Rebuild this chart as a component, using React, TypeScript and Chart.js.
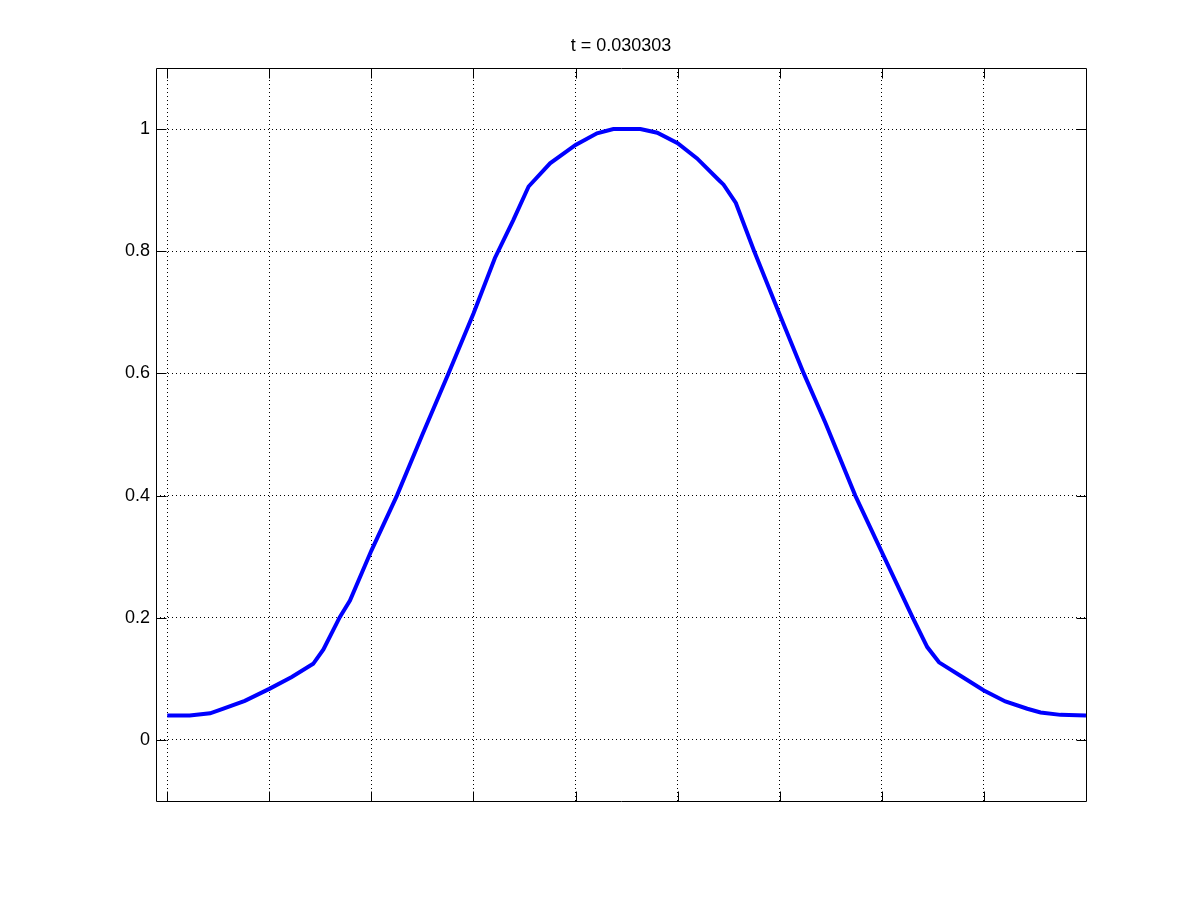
import React, { useEffect, useRef } from "react";
import { Chart, registerables } from "chart.js";

Chart.register(...registerables);

const titleText = "t = 0.030303";
const xValues = [0, 0.22, 0.42, 0.53, 0.76, 1.0, 1.22, 1.43, 1.53, 1.69, 1.79, 2.0, 2.25, 2.5, 2.755, 3.0, 3.21, 3.39, 3.54, 3.75, 4.0, 4.21, 4.37, 4.635, 4.8, 5.0, 5.19, 5.4, 5.45, 5.57, 5.745, 6.0, 6.235, 6.45, 6.74, 7.0, 7.3, 7.445, 7.56, 7.77, 8.0, 8.21, 8.425, 8.555, 8.75, 9.0];
const yValues = [0.04, 0.04, 0.0436, 0.05, 0.064, 0.0836, 0.103, 0.1246, 0.148, 0.201, 0.228, 0.31, 0.4, 0.5, 0.6, 0.698, 0.789, 0.851, 0.906, 0.944, 0.974, 0.993, 1.0, 1.0, 0.994, 0.977, 0.952, 0.917, 0.909, 0.879, 0.802, 0.696, 0.6, 0.518, 0.4, 0.3075, 0.201, 0.152, 0.127, 0.105, 0.081, 0.063, 0.051, 0.045, 0.041, 0.04];
const xTicks = [0, 1, 2, 3, 4, 5, 6, 7, 8];
const yTicks = [0, 0.2, 0.4, 0.6, 0.8, 1.0];
const xMin = -0.11;
const xMax = 9.0;
const yMin = -0.1;
const yMax = 1.1;

const FONT = "'Liberation Sans', Arial, Helvetica, sans-serif";

const boxPlugin = {
  id: "boxPlugin",
  afterDraw(chart: any) {
    const { ctx, chartArea } = chart;
    const { left, right, top, bottom } = chartArea;
    const xs = chart.scales.x;
    const ys = chart.scales.y;
    const L = Math.round(left) + 0.5;
    const R = Math.round(right) + 0.5;
    const T = Math.round(top) + 0.5;
    const B = Math.round(bottom) + 0.5;
    ctx.save();
    ctx.strokeStyle = "#000";
    ctx.lineWidth = 1;
    ctx.setLineDash([]);
    ctx.beginPath();
    ctx.rect(L, T, R - L, B - T);
    const len = 10;
    xTicks.forEach((v) => {
      const px = Math.round(xs.getPixelForValue(v)) + 0.5;
      ctx.moveTo(px, B);
      ctx.lineTo(px, B - len);
      ctx.moveTo(px, T);
      ctx.lineTo(px, T + len);
    });
    yTicks.forEach((v) => {
      const py = Math.round(ys.getPixelForValue(v)) + 0.5;
      ctx.moveTo(L, py);
      ctx.lineTo(L + len, py);
      ctx.moveTo(R, py);
      ctx.lineTo(R - len, py);
    });
    ctx.stroke();
    // title, centred over the plot box
    ctx.fillStyle = "#000";
    ctx.font = `18px ${FONT}`;
    ctx.textAlign = "center";
    ctx.textBaseline = "middle";
    ctx.fillText(titleText, (left + right) / 2, top - 22);
    ctx.restore();
  },
};

export default function App() {
  const ref = useRef<HTMLCanvasElement | null>(null);
  useEffect(() => {
    if (!ref.current) return;
    const data = xValues.map((x, i) => ({ x, y: yValues[i] }));
    const chart = new Chart(ref.current, {
      type: "line",
      data: {
        datasets: [
          {
            data,
            borderColor: "#0000ff",
            borderWidth: 4,
            pointRadius: 0,
            tension: 0,
            fill: false,
          },
        ],
      },
      options: {
        animation: false,
        responsive: false,
        devicePixelRatio: 1,
        layout: { padding: { left: 0, right: 114, top: 68, bottom: 99 } },
        plugins: {
          legend: { display: false },
          tooltip: { enabled: false },
          title: { display: false },
        },
        scales: {
          x: {
            type: "linear",
            min: xMin,
            max: xMax,
            afterBuildTicks: (s: any) => {
              s.ticks = xTicks.map((v) => ({ value: v }));
            },
            afterFit: (s: any) => {
              s.height = 0;
            },
            ticks: { display: false },
            border: { display: false, dash: [1, 3] },
            grid: {
              color: "#000",
              lineWidth: 1,
              drawTicks: false,
            },
          },
          y: {
            type: "linear",
            min: yMin,
            max: yMax,
            afterBuildTicks: (s: any) => {
              s.ticks = yTicks.map((v) => ({ value: v }));
            },
            afterFit: (s: any) => {
              s.width = 156;
            },
            ticks: {
              color: "#000",
              padding: 6,
              font: { family: FONT, size: 18 },
              callback: (v: any) => String(Number(Number(v).toFixed(1))),
            },
            border: { display: false, dash: [1, 3] },
            grid: {
              color: "#000",
              lineWidth: 1,
              drawTicks: false,
            },
          },
        },
      },
      plugins: [boxPlugin],
    } as any);
    return () => chart.destroy();
  }, []);
  return (
    <div style={{ position: "absolute", left: 0, top: 0, width: 1200, height: 900, background: "#fff" }}>
      <canvas ref={ref} width={1200} height={900} style={{ display: "block" }} />
    </div>
  );
}
